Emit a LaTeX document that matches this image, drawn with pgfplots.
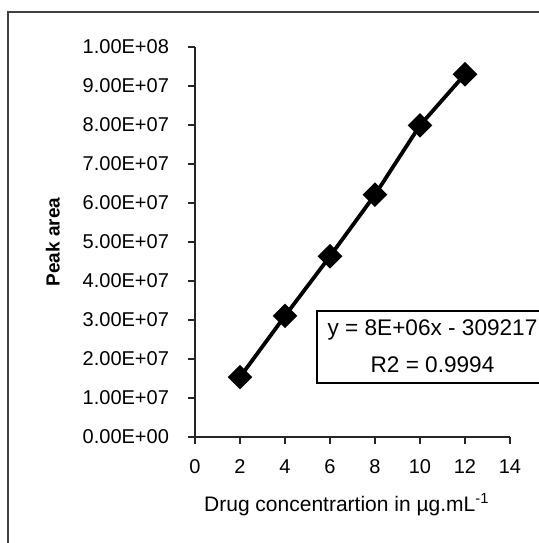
\documentclass[border=0pt]{standalone}
\usepackage{pgfplots}
\pgfplotsset{compat=1.18}
\usepackage{fontspec}
\setmainfont{Liberation Sans}

\begin{document}
\begin{tikzpicture}
  \begin{axis}[
      name=ax, at={(0,0)}, anchor=south west,
      scale only axis,
      width=157.5pt, height=194.85pt,
      xmin=0, xmax=14, ymin=0, ymax=1e8,
      axis x line*=bottom, axis y line*=left,
      axis line style={line width=0.9pt, black!85},
      tick style={line width=0.9pt, black!85},
      tick align=outside,
      major tick length=3.5pt,
      xtick={0,2,...,14},
      ytick={0,1e7,2e7,3e7,4e7,5e7,6e7,7e7,8e7,9e7,1e8},
      yticklabels={0.00E+00,1.00E+07,2.00E+07,3.00E+07,4.00E+07,5.00E+07,
                   6.00E+07,7.00E+07,8.00E+07,9.00E+07,1.00E+08},
      scaled y ticks=false,
      /pgf/number format/assume math mode=true,
      tick label style={font=\fontsize{10}{12}\selectfont},
      xticklabel style={yshift=-4.5pt},
      yticklabel style={xshift=-6pt},
      xlabel={Drug concentrartion in µg.mL\textsuperscript{-1}},
      ylabel={\textbf{Peak area}},
      xlabel style={font=\fontsize{10.5}{12}\selectfont,
                    at={(axis description cs:0.482,-0.175)}, anchor=center},
      ylabel style={font=\fontsize{9.5}{11}\selectfont,
                    at={(axis description cs:-0.451,0.5)}, anchor=center},
      clip=false,
    ]
    \addplot[black, line width=1.9pt, mark=square*,
             mark size=3.4pt, mark options={rotate=45, solid}]
      coordinates {
        (2,1.53e7) (4,3.10e7) (6,4.63e7) (8,6.21e7) (10,7.99e7) (12,9.30e7)
      };
  \end{axis}

  % trendline equation box
  \node[draw=black, line width=0.9pt, fill=white,
        minimum width=115.5pt, minimum height=36pt,
        align=center, font=\fontsize{11.3}{18.5}\selectfont]
    at (118.75pt,45pt) {y = 8E+06x - 309217\\R2 = 0.9994};

  % chart-area frame (cropped on the right and bottom)
  \draw[line width=0.9pt, black!75]
    (-93.5pt,-60pt) -- (-93.5pt,212.35pt) -- (180pt,212.35pt);

  \pgfresetboundingbox
  \path[use as bounding box] (-97.5pt,-53.15pt) rectangle (172pt,218.35pt);
\end{tikzpicture}
\end{document}
